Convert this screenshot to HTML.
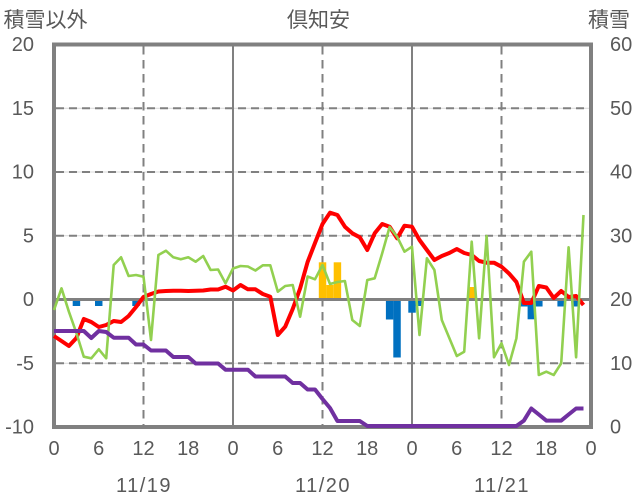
<!DOCTYPE html>
<html>
<head>
<meta charset="utf-8">
<style>
html,body{margin:0;padding:0;background:#fff;}
svg{display:block;}
text{font-family:"Liberation Sans","Noto Sans CJK JP",sans-serif;fill:#595959;}
</style>
</head>
<body>
<svg width="636" height="501" viewBox="0 0 636 501" xmlns="http://www.w3.org/2000/svg">
<rect x="0" y="0" width="636" height="501" fill="#fff"/>

<!-- horizontal grid -->
<g stroke="#d9d9d9" stroke-width="1">
<line x1="54" y1="108.25" x2="591" y2="108.25"/>
<line x1="54" y1="172" x2="591" y2="172"/>
<line x1="54" y1="235.75" x2="591" y2="235.75"/>
<line x1="54" y1="363.25" x2="591" y2="363.25"/>
</g>
<g stroke="#808080" stroke-width="2" stroke-dasharray="8,5">
<line x1="56" y1="108.25" x2="591" y2="108.25"/>
<line x1="56" y1="172" x2="591" y2="172"/>
<line x1="56" y1="235.75" x2="591" y2="235.75"/>
<line x1="56" y1="363.25" x2="591" y2="363.25"/>
</g>
<!-- vertical grid -->
<g stroke="#808080" stroke-width="2" stroke-dasharray="8.5,5.5">
<line x1="143.5" y1="46" x2="143.5" y2="427"/>
<line x1="322.5" y1="46" x2="322.5" y2="427"/>
<line x1="501.5" y1="46" x2="501.5" y2="427"/>
</g>
<g stroke="#808080" stroke-width="2">
<line x1="233" y1="44" x2="233" y2="427"/>
<line x1="412" y1="44" x2="412" y2="427"/>
</g>

<!-- bars -->
<g fill="#0070C0">
<rect x="72.7" y="299.5" width="7.46" height="6.5"/>
<rect x="95" y="299.5" width="7.46" height="6.5"/>
<rect x="132.3" y="299.5" width="7.46" height="6.5"/>
<rect x="385.9" y="299.5" width="7.46" height="20"/>
<rect x="393.3" y="299.5" width="7.46" height="58"/>
<rect x="408.3" y="299.5" width="7.46" height="13.2"/>
<rect x="415.7" y="299.5" width="7.46" height="6.5"/>
<rect x="520.2" y="299.5" width="7.46" height="7"/>
<rect x="527.6" y="299.5" width="7.46" height="19.8"/>
<rect x="535.1" y="299.5" width="7.46" height="7"/>
<rect x="557.4" y="299.5" width="7.46" height="7"/>
<rect x="572.4" y="299.5" width="7.46" height="7"/>
</g>
<g fill="#FFC000">
<rect x="318.8" y="262.3" width="7.46" height="37.2"/>
<rect x="326.2" y="285" width="7.46" height="14.5"/>
<rect x="333.7" y="262.3" width="7.46" height="37.2"/>
<rect x="467.9" y="287" width="7.46" height="12.5"/>
</g>

<!-- zero line -->
<line x1="54" y1="299.5" x2="591" y2="299.5" stroke="#808080" stroke-width="3"/>
<!-- frame -->
<rect x="54" y="44.5" width="537" height="382.5" fill="none" stroke="#808080" stroke-width="4"/>

<!-- red -->
<polyline fill="none" stroke="#FF0000" stroke-width="4" stroke-linejoin="round" points="54,336 61.5,341 68.9,346 76.4,338 83.8,319 91.3,322 98.8,327 106.2,325 113.7,321 121.1,322 128.6,316 136,307 143.5,297 151,294 158.4,291.5 165.9,291 173.3,290.7 180.8,290.7 188.3,291 195.7,290.7 203.2,290.5 210.6,289.5 218.1,289.5 225.5,286.7 233,290.5 240.5,285 247.9,289.3 255.4,289.3 262.8,294 270.3,296.7 277.8,335 285.2,326.7 292.7,309 300.1,288.5 307.6,262 315,243 322.5,224 330,212.7 337.4,215 344.9,226.7 352.3,233.3 359.8,237.3 367.3,250 374.7,233.3 382.2,224 389.6,226.7 397.1,238.3 404.5,225.7 412,226.7 419.5,240 426.9,250 434.4,260 441.8,256 449.3,253 456.8,249 464.2,253 471.7,255 479.1,261 486.6,262.7 494,262.7 501.5,266.7 509,273.5 516.4,282 523.9,303 531.3,303 538.8,286 546.3,287.5 553.7,298 561.2,291 568.6,297 576.1,296 583.5,305"/>

<!-- green -->
<polyline fill="none" stroke="#92D050" stroke-width="2.6" stroke-linejoin="round" points="54,310 61.5,288.3 68.9,311.7 76.4,333 83.8,356.7 91.3,358.3 98.8,349.3 106.2,358.3 113.7,265 121.1,257.3 128.6,276 136,275 143.5,276.7 151,340 158.4,255 165.9,250.7 173.3,257.3 180.8,259.3 188.3,257.3 195.7,261.7 203.2,256 210.6,270 218.1,269.5 225.5,283.3 233,268.5 240.5,266 247.9,266.5 255.4,270.5 262.8,265.3 270.3,265.3 277.8,291.7 285.2,286 292.7,285 300.1,316.7 307.6,276.5 315,279.3 322.5,265 330,284 337.4,282 344.9,281 352.3,320 359.8,326 367.3,280 374.7,278.3 382.2,253.3 389.6,227 397.1,236.7 404.5,251.7 412,246.7 419.5,335 426.9,258.3 434.4,270 441.8,320 449.3,338 456.8,356 464.2,351.7 471.7,241.7 479.1,338.3 486.6,236 494,357.3 501.5,343.3 509,365 516.4,338.3 523.9,261.7 531.3,251.7 538.8,375 546.3,371.7 553.7,375 561.2,363.3 568.6,247.3 576.1,357.3 583.5,215"/>

<!-- purple -->
<polyline fill="none" stroke="#7030A0" stroke-width="4" stroke-linejoin="round" points="54,331 61.5,331 68.9,331 76.4,331 83.8,331 91.3,338 98.8,331 106.2,332 113.7,337.7 121.1,337.7 128.6,337.7 136,344.5 143.5,344.5 151,350.5 158.4,350.5 165.9,350.5 173.3,357 180.8,357 188.3,357 195.7,363.5 203.2,363.5 210.6,363.5 218.1,363.5 225.5,369.7 233,369.7 240.5,369.7 247.9,369.7 255.4,376.5 262.8,376.5 270.3,376.5 277.8,376.5 285.2,376.5 292.7,383 300.1,383 307.6,389.5 315,389.5 322.5,399 330,408 337.4,421 344.9,421 352.3,421 359.8,421 367.3,426 516.4,426 523.9,420.6 531.3,408.5 538.8,414.5 546.3,420.6 553.7,420.6 561.2,420.6 568.6,414.5 576.1,408.5 583.5,408.5"/>

<!-- titles -->
<text x="3.5" y="27" font-size="21">積雪以外</text>
<text x="318.5" y="27" font-size="21" text-anchor="middle">倶知安</text>
<text x="588" y="27" font-size="21">積雪</text>

<!-- left axis labels -->
<g font-size="20" text-anchor="end">
<text x="34" y="51">20</text>
<text x="34" y="114.75">15</text>
<text x="34" y="178.5">10</text>
<text x="34" y="242.25">5</text>
<text x="34" y="306">0</text>
<text x="34" y="369.75">-5</text>
<text x="34" y="433.5">-10</text>
</g>
<!-- right axis labels -->
<g font-size="20">
<text x="610" y="51">60</text>
<text x="610" y="114.75">50</text>
<text x="610" y="178.5">40</text>
<text x="610" y="242.25">30</text>
<text x="610" y="306">20</text>
<text x="610" y="369.75">10</text>
<text x="610" y="433.5">0</text>
</g>
<!-- bottom labels -->
<g font-size="20" text-anchor="middle">
<text x="54" y="455">0</text>
<text x="98.7" y="455">6</text>
<text x="143.5" y="455">12</text>
<text x="188.2" y="455">18</text>
<text x="233" y="455">0</text>
<text x="277.7" y="455">6</text>
<text x="322.5" y="455">12</text>
<text x="367.2" y="455">18</text>
<text x="412" y="455">0</text>
<text x="456.7" y="455">6</text>
<text x="501.5" y="455">12</text>
<text x="546.2" y="455">18</text>
<text x="591" y="455">0</text>
</g>
<g font-size="20" text-anchor="middle" letter-spacing="1.5">
<text x="144" y="492">11/19</text>
<text x="323" y="492">11/20</text>
<text x="502" y="492">11/21</text>
</g>
</svg>
</body>
</html>
